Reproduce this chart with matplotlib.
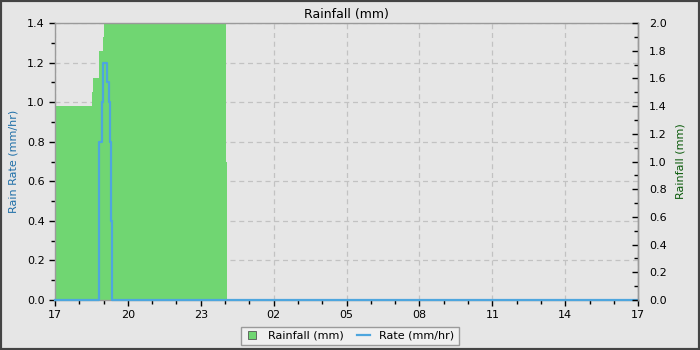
import matplotlib
matplotlib.use("Agg")
import matplotlib.pyplot as plt
from matplotlib.ticker import MultipleLocator, FuncFormatter
from matplotlib.lines import Line2D
from matplotlib.patches import Rectangle

# minutes after 17:00, 24 hour window
rate_minutes = [0, 108, 117, 119, 129, 133, 137, 138, 140, 1440]
rate_mm_hr = [0.0, 0.8, 1.0, 1.2, 1.1, 1.0, 0.8, 0.4, 0.0, 0.0]

rain_minutes = [0, 91, 94, 109, 118, 121, 422, 425]
rain_mm = [1.4, 1.5, 1.6, 1.8, 1.9, 2.1, 1.0, 1.0]

start_hour = 17
rate_h = [m / 60 for m in rate_minutes]
rain_h = [m / 60 for m in rain_minutes]

bg = "#e6e6e6"
green = "#70d672"
blue = "#4ea6de"

fig = plt.figure(figsize=(7, 3.5), dpi=100, facecolor=bg)
ax = fig.add_axes([0.0786, 0.143, 0.833, 0.791])
ax.set_facecolor(bg)
ax2 = ax.twinx()

# rainfall area uses the right-hand scale but sits on the main axes (below the rate line)
ax.fill_between(rain_h, rain_mm, 0, step="post", color=green, lw=0,
                transform=ax2.transData, zorder=1)
ax.step(rate_h, rate_mm_hr, where="post", color=blue, lw=1.6, zorder=3, clip_on=False)

ax.set_xlim(0, 24)
ax.set_ylim(0, 1.4)
ax2.set_ylim(0, 2.0)

ax.xaxis.set_major_locator(MultipleLocator(3))
ax.xaxis.set_minor_locator(MultipleLocator(1))
ax.xaxis.set_major_formatter(FuncFormatter(lambda v, p: "%02d" % ((start_hour + int(round(v))) % 24)))
ax.yaxis.set_major_locator(MultipleLocator(0.2))
ax.yaxis.set_minor_locator(MultipleLocator(0.1))
ax.yaxis.set_major_formatter(FuncFormatter(lambda v, p: "%.1f" % v))
ax2.yaxis.set_major_locator(MultipleLocator(0.2))
ax2.yaxis.set_minor_locator(MultipleLocator(0.1))
ax2.yaxis.set_major_formatter(FuncFormatter(lambda v, p: "%.1f" % v))

ax.set_axisbelow(True)
ax.grid(True, which="major", color="#c2c2c2", ls=(0, (4, 3)), lw=0.9)

ax.tick_params(axis="both", which="major", labelsize=8, length=4, width=1, color="black")
ax.tick_params(axis="both", which="minor", length=3, width=1, color="black")
ax2.tick_params(axis="y", which="major", direction="in", labelsize=8, length=4, width=1, pad=8)
ax2.tick_params(axis="y", which="minor", direction="in", length=3, width=1)

for s in ax.spines.values():
    s.set_color("#9a9a9a")
    s.set_linewidth(1)
for name, s in ax2.spines.items():
    s.set_visible(name == "right")
    s.set_color("#9a9a9a")
    s.set_linewidth(1)

ax.set_ylabel("Rain Rate (mm/hr)", fontsize=8, color="#1f6fa8", labelpad=6)
ax2.set_ylabel("Rainfall (mm)", fontsize=8, color="#0a5a0a", labelpad=6)
ax.set_title("Rainfall (mm)", fontsize=9, pad=4)

handles = [Line2D([], [], marker="s", ls="none", markersize=6, markerfacecolor=green,
                  markeredgecolor="#555555", markeredgewidth=0.6),
           Line2D([], [], color=blue, lw=1.6)]
fig.legend(handles, ["Rainfall (mm)", "Rate (mm/hr)"], loc="center", bbox_to_anchor=(0.5, 0.04),
           ncol=2, fontsize=8, frameon=True, fancybox=False, edgecolor="#9a9a9a",
           facecolor="#f0f0f0", handlelength=1.2, columnspacing=1.2, borderpad=0.4,
           framealpha=1)

fig.patches.append(Rectangle((0, 0), 1, 1, transform=fig.transFigure, fill=False,
                             edgecolor="#444444", lw=3))

fig.savefig("out.png", dpi=100, facecolor=bg)
